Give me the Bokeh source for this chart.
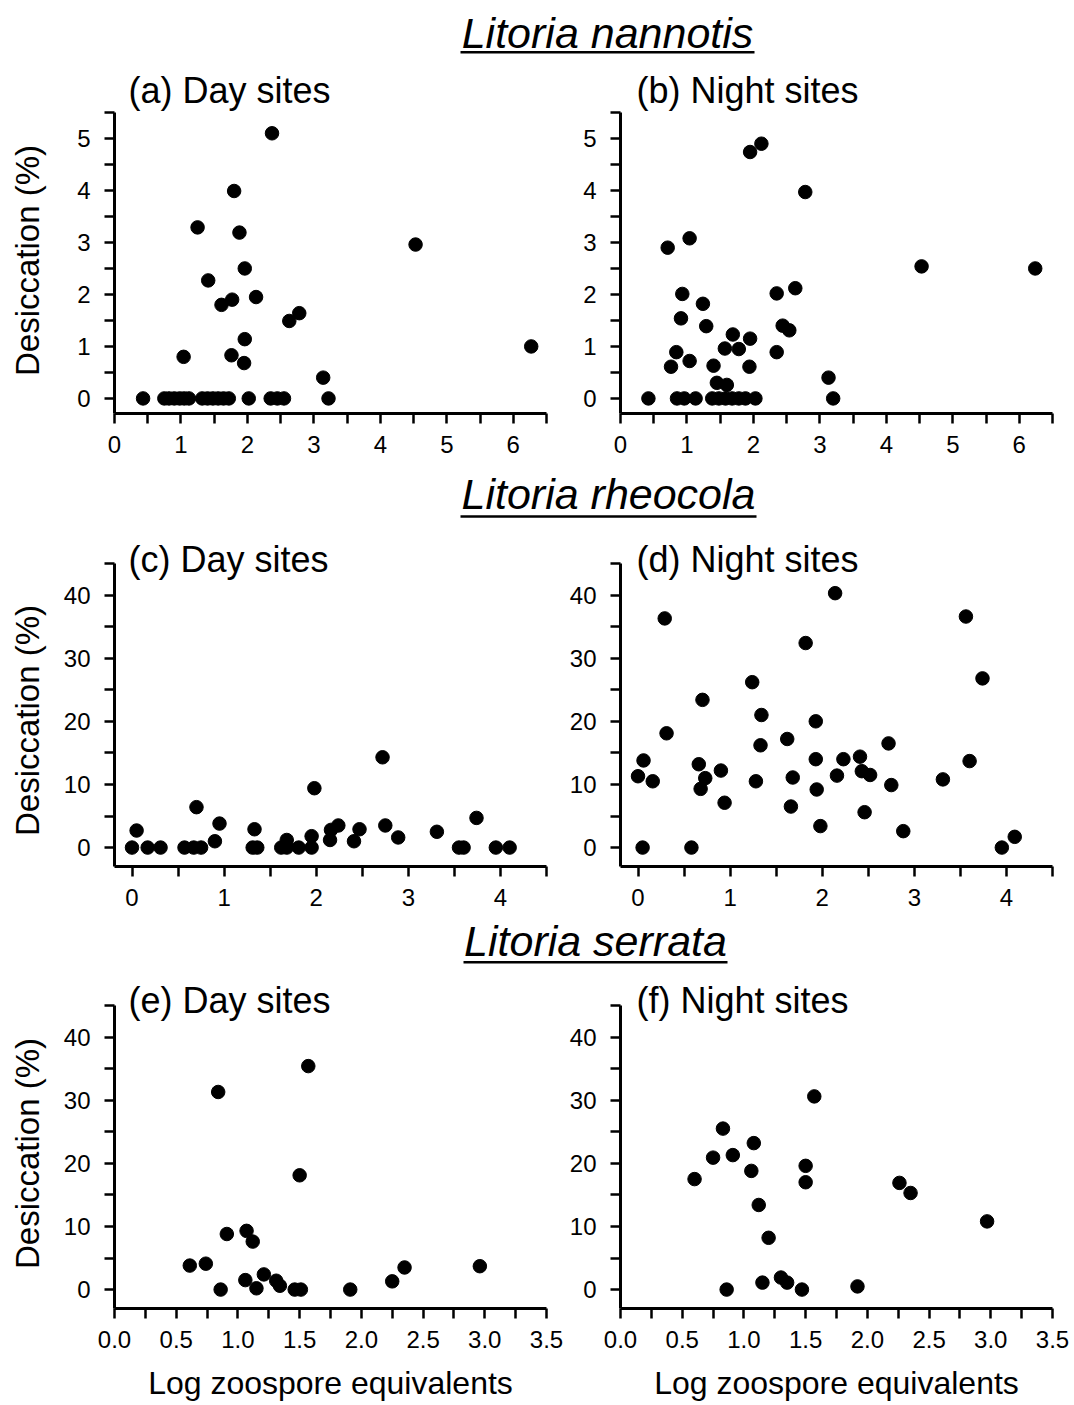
from bokeh.plotting import figure
from bokeh.layouts import column, row
from bokeh.models import Range1d, FixedTicker, Label, PrintfTickFormatter, Spacer
from bokeh.core.properties import value
from bokeh.embed import file_html
from bokeh.resources import INLINE

FONT = "Liberation Sans"

# ---- Litoria nannotis ----
nannotis_day_x = [0.43, 0.75, 0.82, 0.90, 0.98, 1.05, 1.12, 1.32, 1.40, 1.48, 1.56, 1.64,
                  1.72, 2.02, 2.35, 2.45, 2.55, 3.22,
                  1.04, 1.25, 1.41, 1.61, 1.77, 1.80, 1.88, 1.76, 1.96, 1.96, 1.95, 2.13,
                  2.37, 2.63, 2.78, 3.14, 4.53, 6.27]
nannotis_day_y = [0, 0, 0, 0, 0, 0, 0, 0, 0, 0, 0, 0,
                  0, 0, 0, 0, 0, 0,
                  0.80, 3.29, 2.27, 1.80, 1.90, 3.99, 3.19, 0.83, 2.50, 1.14, 0.68, 1.95,
                  5.10, 1.49, 1.64, 0.40, 2.96, 1.00]

nannotis_night_x = [0.42, 0.85, 0.96, 1.13, 1.38, 1.48, 1.58, 1.68, 1.78, 1.88, 2.03, 3.20,
                    0.71, 1.04, 0.93, 0.91, 0.84, 0.76, 1.04, 1.24, 1.29, 1.40, 1.45, 1.60,
                    1.57, 1.69, 1.78, 1.95, 1.94, 1.95, 2.12, 2.35, 2.35, 2.44, 2.54, 2.63,
                    2.78, 3.13, 4.53, 6.24]
nannotis_night_y = [0, 0, 0, 0, 0, 0, 0, 0, 0, 0, 0, 0,
                    2.90, 3.08, 2.01, 1.54, 0.89, 0.61, 0.72, 1.82, 1.39, 0.63, 0.30, 0.26,
                    0.96, 1.23, 0.95, 1.15, 0.61, 4.74, 4.90, 2.02, 0.89, 1.40, 1.31, 2.12,
                    3.97, 0.40, 2.54, 2.50]

# ---- Litoria rheocola ----
rheocola_day_x = [0.00, 0.17, 0.31, 0.57, 0.67, 0.75, 1.31, 1.36, 1.62, 1.68, 1.81, 1.95,
                  3.55, 3.60, 3.95, 4.10,
                  0.05, 0.70, 0.90, 0.95, 1.33, 1.68, 1.95, 1.98, 2.15, 2.16, 2.24, 2.41,
                  2.47, 2.72, 2.75, 2.89, 3.31, 3.74]
rheocola_day_y = [0, 0, 0, 0, 0, 0, 0, 0, 0, 0, 0, 0,
                  0, 0, 0, 0,
                  2.7, 6.4, 1.0, 3.8, 2.9, 1.2, 1.8, 9.4, 1.2, 2.8, 3.5, 1.0,
                  2.9, 14.3, 3.5, 1.6, 2.5, 4.7]

rheocola_night_x = [0.00, 0.06, 0.05, 0.16, 0.29, 0.31, 0.58, 0.66, 0.73, 0.68, 0.70, 0.90,
                    0.94, 1.24, 1.28, 1.33, 1.34, 1.62, 1.66, 1.68, 1.82, 1.93, 1.93, 1.94,
                    1.98, 2.14, 2.16, 2.23, 2.41, 2.43, 2.52, 2.46, 2.72, 2.75, 2.88, 3.31,
                    3.56, 3.60, 3.74, 3.95, 4.09]
rheocola_night_y = [11.3, 13.8, 0.0, 10.5, 36.3, 18.1, 0.0, 13.2, 11.0, 9.3, 23.4, 12.2,
                    7.1, 26.2, 10.5, 16.2, 21.0, 17.2, 6.5, 11.1, 32.4, 20.0, 14.0, 9.2,
                    3.4, 40.3, 11.4, 14.0, 14.4, 12.1, 11.5, 5.6, 16.5, 9.9, 2.6, 10.8,
                    36.6, 13.7, 26.8, 0.0, 1.7]

# ---- Litoria serrata ----
serrata_day_x = [0.61, 0.74, 0.84, 0.86, 0.91, 1.07, 1.12, 1.06, 1.15, 1.21, 1.31, 1.34,
                 1.46, 1.51, 1.50, 1.57, 1.91, 2.25, 2.35, 2.96]
serrata_day_y = [3.8, 4.1, 31.3, 0.0, 8.8, 9.3, 7.6, 1.5, 0.2, 2.4, 1.4, 0.6,
                 0.0, 0.0, 18.1, 35.4, 0.0, 1.3, 3.5, 3.7]

serrata_night_x = [0.60, 0.75, 0.83, 0.91, 0.86, 1.08, 1.06, 1.12, 1.20, 1.15, 1.30, 1.35,
                   1.47, 1.50, 1.50, 1.57, 1.92, 2.26, 2.35, 2.97]
serrata_night_y = [17.5, 20.9, 25.5, 21.3, 0.0, 23.2, 18.8, 13.4, 8.2, 1.1, 1.9, 1.1,
                   0.0, 19.6, 17.0, 30.6, 0.5, 16.9, 15.3, 10.8]

Y_LABEL = "Desiccation (%)"
X_LABEL = "Log zoospore equivalents"

YLAB_W = 52  # strip that carries the y-axis title


def style_axis(ax, ticks, minor, fmt, standoff):
    ax.ticker = FixedTicker(ticks=ticks, minor_ticks=minor)
    ax.formatter = PrintfTickFormatter(format=fmt)
    ax.axis_line_width = 3
    ax.axis_line_color = "black"
    ax.major_tick_line_width = 2.5
    ax.minor_tick_line_width = 2.5
    ax.major_tick_line_color = "black"
    ax.minor_tick_line_color = "black"
    ax.major_tick_in = 0
    ax.major_tick_out = 10
    ax.minor_tick_in = 0
    ax.minor_tick_out = 10
    ax.major_label_text_font = FONT
    ax.major_label_text_font_size = "24px"
    ax.major_label_text_color = "black"
    ax.major_label_standoff = standoff
    ax.axis_label_text_font = FONT
    ax.axis_label_text_font_style = "normal"
    ax.axis_label_text_color = "black"


def panel(xs, ys, label, xr, ybounds, xt, xm, xfmt, yt, ym, left, height, bottom,
          axis_px, head_px, label_dy, xlabel=False):
    """axis_px: drawn length of the y axis; head_px: free room above it for the label."""
    if left:
        w, bl, br, lx = 566 - YLAB_W, 114 - YLAB_W, 20, 14
    else:
        w, bl, br, lx = 508, 54, 22, 16
    y0, y1 = ybounds
    y_top = y1 + (y1 - y0) * head_px / axis_px
    top = height - bottom - axis_px - head_px
    p = figure(width=w, height=height, x_range=Range1d(*xr), y_range=Range1d(y0, y_top),
               output_backend="svg", toolbar_location=None,
               min_border_left=bl, min_border_right=br,
               min_border_top=top, min_border_bottom=bottom)
    p.outline_line_color = None
    p.grid.visible = False
    p.scatter(xs, ys, size=13.5, color="black")

    style_axis(p.xaxis[0], xt, xm, xfmt, 12)
    style_axis(p.yaxis[0], yt, ym, "%d", 14)
    p.yaxis[0].bounds = (y0, y1)
    if xlabel:
        p.xaxis[0].axis_label = X_LABEL
        p.xaxis[0].axis_label_text_font_size = "32px"
        p.xaxis[0].axis_label_standoff = 14

    p.add_layout(Label(x=xr[0], y=y1, x_offset=lx, y_offset=label_dy, text=label,
                       text_font=FONT, text_font_size="36px", text_color="black",
                       text_baseline="alphabetic", text_align="left"))
    return p


def y_title(center_from_top, span=300):
    """Bare left axis whose title is centred on a short strip, pushed down by a spacer."""
    s = figure(width=YLAB_W, height=span, x_range=Range1d(0, 1), y_range=Range1d(0, 1),
               output_backend="svg", toolbar_location=None, x_axis_location=None,
               min_border_left=YLAB_W - 5, min_border_right=0,
               min_border_top=0, min_border_bottom=0)
    s.outline_line_color = None
    s.grid.visible = False
    ax = s.yaxis[0]
    ax.ticker = FixedTicker(ticks=[])
    ax.axis_line_color = None
    ax.major_tick_line_color = None
    ax.minor_tick_line_color = None
    ax.major_tick_out = 0
    ax.minor_tick_out = 0
    ax.major_label_text_font_size = "1px"
    ax.major_label_standoff = 0
    ax.axis_label = Y_LABEL
    ax.axis_label_text_font = FONT
    ax.axis_label_text_font_style = "normal"
    ax.axis_label_text_font_size = "33px"
    ax.axis_label_text_color = "black"
    ax.axis_label_standoff = 2
    return column(Spacer(width=YLAB_W, height=int(round(center_from_top - span / 2))), s)


def species_title(text, height, cx, base, half, uline):
    t = figure(width=1074, height=height, x_range=Range1d(0, 1074),
               y_range=Range1d(0, height), output_backend="svg", toolbar_location=None,
               x_axis_location=None, y_axis_location=None, min_border=0)
    t.outline_line_color = None
    t.grid.visible = False
    t.text(x=[cx], y=[base], text=[text], text_font=value(FONT),
           text_font_style="italic", text_font_size="43px", text_color="black",
           text_align="center", text_baseline="alphabetic")
    t.segment(x0=[cx - half], y0=[uline], x1=[cx + half], y1=[uline],
              line_width=2.5, line_color="black")
    return t


int_x65 = [0, 1, 2, 3, 4, 5, 6]
half_x65 = [0.5, 1.5, 2.5, 3.5, 4.5, 5.5, 6.5]
int_y5 = [0, 1, 2, 3, 4, 5]
half_y5 = [0.5, 1.5, 2.5, 3.5, 4.5, 5.5]
int_x4 = [0, 1, 2, 3, 4]
half_x4 = [0.5, 1.5, 2.5, 3.5, 4.5]
ticks_y40 = [0, 10, 20, 30, 40]
minor_y40 = [5, 15, 25, 35, 45]
ticks_x35 = [0.0, 0.5, 1.0, 1.5, 2.0, 2.5, 3.0, 3.5]
minor_x35 = [0.25, 0.75, 1.25, 1.75, 2.25, 2.75, 3.25]

pa = panel(nannotis_day_x, nannotis_day_y, "(a) Day sites", (0, 6.5), (-0.29, 5.5),
           int_x65, half_x65, "%d", int_y5, half_y5, True, 408, 57, 301, 46, 22)
pb = panel(nannotis_night_x, nannotis_night_y, "(b) Night sites", (0, 6.5), (-0.29, 5.5),
           int_x65, half_x65, "%d", int_y5, half_y5, False, 408, 57, 301, 46, 22)
pc = panel(rheocola_day_x, rheocola_day_y, "(c) Day sites", (-0.19, 4.5), (-3, 45),
           int_x4, half_x4, "%d", ticks_y40, minor_y40, True, 396, 52, 303, 37, 4)
pd = panel(rheocola_night_x, rheocola_night_y, "(d) Night sites", (-0.19, 4.5), (-3, 45),
           int_x4, half_x4, "%d", ticks_y40, minor_y40, False, 396, 52, 303, 37, 4)
pe = panel(serrata_day_x, serrata_day_y, "(e) Day sites", (0, 3.5), (-3, 45),
           ticks_x35, minor_x35, "%.1f", ticks_y40, minor_y40, True, 435, 97, 303, 31, 5,
           xlabel=True)
pf = panel(serrata_night_x, serrata_night_y, "(f) Night sites", (0, 3.5), (-3, 45),
           ticks_x35, minor_x35, "%.1f", ticks_y40, minor_y40, False, 435, 97, 303, 31, 5,
           xlabel=True)

ya = y_title(198)
yc = y_title(198)
ye = y_title(183)

t1 = species_title("Litoria nannotis", 62, 607, 30, 147, 10.3)
t2 = species_title("Litoria rheocola", 52, 608, 29, 148, 6)
t3 = species_title("Litoria serrata", 52, 595, 30, 132, 8.3)

layout = column(t1, row(ya, pa, pb), t2, row(yc, pc, pd), t3, row(ye, pe, pf))

open("out.html", "w").write(file_html(layout, INLINE))
